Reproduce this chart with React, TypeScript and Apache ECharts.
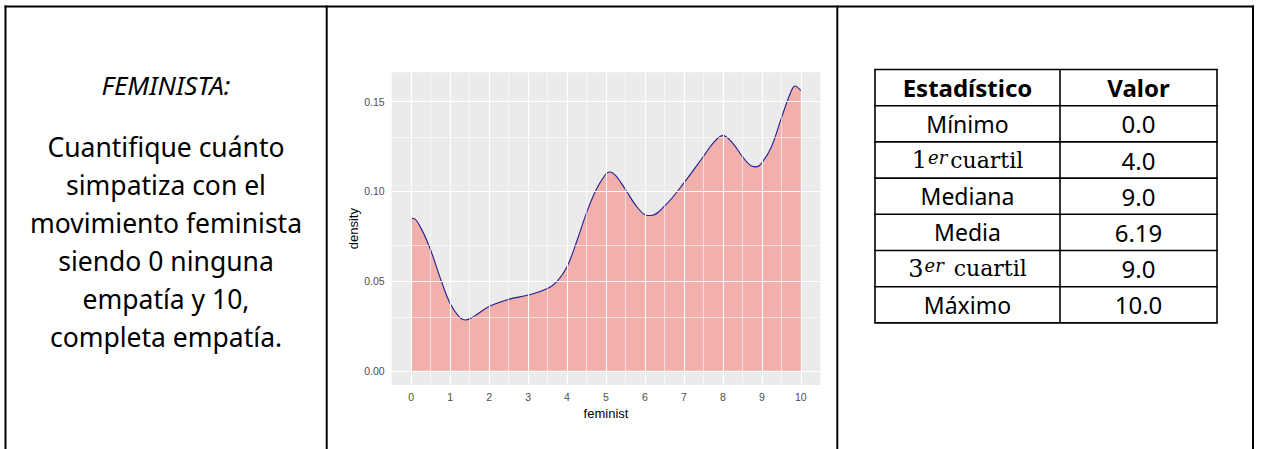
import React, { useEffect, useRef } from "react";
import * as echarts from "echarts";

// ---- data ----
const feministX = [0, 0.05, 0.25, 0.5, 0.75, 1.0, 1.25, 1.4, 1.6, 2.0, 2.5, 3.0, 3.5, 3.75, 4.0, 4.25, 4.5, 4.75, 5.0, 5.1, 5.25, 5.5, 5.75, 6.0, 6.15, 6.5, 7.0, 7.5, 7.75, 8.0, 8.25, 8.5, 8.75, 8.85, 9.0, 9.25, 9.5, 9.75, 9.85, 10];
const densityY = [0.0843, 0.085, 0.0795, 0.0672, 0.0515, 0.0375, 0.0297, 0.0283, 0.0302, 0.0358, 0.0398, 0.0422, 0.0458, 0.05, 0.058, 0.0722, 0.088, 0.101, 0.1098, 0.1108, 0.1087, 0.101, 0.0926, 0.087, 0.0865, 0.0917, 0.1047, 0.1194, 0.1269, 0.131, 0.1269, 0.1194, 0.1139, 0.1136, 0.1158, 0.125, 0.1408, 0.1556, 0.1587, 0.1561];

const xTicks = [0, 1, 2, 3, 4, 5, 6, 7, 8, 9, 10];
const xMinorGrid = [0.5, 1.5, 2.5, 3.5, 4.5, 5.5, 6.5, 7.5, 8.5, 9.5];
const yTicks = [0, 0.05, 0.1, 0.15];
const yMinorGrid = [0.025, 0.075, 0.125];

const titleText = "FEMINISTA:";
const bodyLines = [
  "Cuantifique cuánto",
  "simpatiza con el",
  "movimiento feminista",
  "siendo 0 ninguna",
  "empatía y 10,",
  "completa empatía.",
];

const tableHeader = ["Estadístico", "Valor"];
const statNames = ["Mínimo", "1^er^cuartil", "Mediana", "Media", "3^er^ cuartil", "Máximo"];
const statValues = ["0.0", "4.0", "9.0", "6.19", "9.0", "10.0"];

export default function App() {
  const ref = useRef<HTMLDivElement>(null);

  useEffect(() => {
    if (!ref.current) return;
    const chart = echarts.init(ref.current, null, { renderer: "svg" });

    const sans = '"Noto Sans"';
    const serif = '"DejaVu Serif"';
    const axisFont = '"Liberation Sans"';

    const graphics: any[] = [];
    // frame
    const frameStyle = { stroke: "#000", lineWidth: 2 };
    graphics.push({ type: "line", shape: { x1: 4.5, y1: 6.5, x2: 1254, y2: 6.5 }, style: frameStyle });
    [5.5, 326.7, 837.3, 1253].forEach((x) =>
      graphics.push({ type: "line", shape: { x1: x, y1: 5.5, x2: x, y2: 449 }, style: frameStyle })
    );

    // left text
    graphics.push({
      type: "text",
      x: 166,
      y: 85,
      style: {
        text: titleText,
        font: `italic 26px ${sans}`,
        fill: "#000",
        align: "center",
        verticalAlign: "middle",
      },
    });
    graphics.push({
      type: "text",
      x: 166,
      y: 242,
      style: {
        text: bodyLines.join("\n"),
        font: `26.5px ${sans}`,
        lineHeight: 38,
        fill: "#000",
        align: "center",
        verticalAlign: "middle",
      },
    });

    // table
    const tL = 875, tR = 1217, tC = 1060, tT = 69.5;
    const rowH = 36.2;
    const nRows = statNames.length + 1;
    const tB = tT + nRows * rowH;
    const tStyle = { stroke: "#000", lineWidth: 1.6 };
    for (let i = 0; i <= nRows; i++) {
      const y = tT + i * rowH;
      graphics.push({ type: "line", shape: { x1: tL - 0.8, y1: y, x2: tR + 0.8, y2: y }, style: tStyle });
    }
    [tL, tC, tR].forEach((x) =>
      graphics.push({ type: "line", shape: { x1: x, y1: tT, x2: x, y2: tB }, style: tStyle })
    );
    const c1 = (tL + tC) / 2, c2 = (tC + tR) / 2;
    tableHeader.forEach((h, j) =>
      graphics.push({
        type: "text",
        x: j === 0 ? c1 : c2,
        y: tT + rowH / 2,
        style: { text: h, font: `bold 24px ${sans}`, fill: "#000", align: "center", verticalAlign: "middle" },
      })
    );
    statNames.forEach((name, i) => {
      const cy = tT + (i + 1.5) * rowH;
      let style: any;
      if (name.includes("^")) {
        const [pre, sup, post] = name.split("^");
        style = {
          text: `{n|${pre}}{s|${sup}}{c|${post}}`,
          rich: {
            n: { font: `24px ${serif}`, fill: "#000" },
            s: { font: `italic 18px ${serif}`, fill: "#000", verticalAlign: "top", padding: [0, 3, 0, 1] },
            c: { font: `22px ${serif}`, fill: "#000" },
          },
          align: "center",
          verticalAlign: "middle",
        };
      } else {
        style = { text: name, font: `23px ${sans}`, fill: "#000", align: "center", verticalAlign: "middle" };
      }
      graphics.push({ type: "text", x: c1, y: cy, style });
      graphics.push({
        type: "text",
        x: c2,
        y: cy,
        style: { text: statValues[i], font: `24px ${sans}`, fill: "#000", align: "center", verticalAlign: "middle" },
      });
    });

    const points = feministX.map((x, i) => [x, densityY[i]]);

    const gridLines: any[] = [];
    xTicks.forEach((v) => gridLines.push({ xAxis: v, lineStyle: { color: "#ffffff", width: 1.1, type: "solid" } }));
    xMinorGrid.forEach((v) => gridLines.push({ xAxis: v, lineStyle: { color: "#ffffff", width: 0.6, type: "solid" } }));
    yTicks.forEach((v) => gridLines.push({ yAxis: v, lineStyle: { color: "#ffffff", width: 1.1, type: "solid" } }));
    yMinorGrid.forEach((v) => gridLines.push({ yAxis: v, lineStyle: { color: "#ffffff", width: 0.6, type: "solid" } }));

    chart.setOption({
      animation: false,
      backgroundColor: "#ffffff",
      grid: {
        show: true,
        left: 391.7,
        top: 72.3,
        right: 1261 - 820.3,
        bottom: 449 - 385,
        backgroundColor: "#EBEBEB",
        borderWidth: 0,
        containLabel: false,
      },
      xAxis: {
        type: "value",
        min: -0.5,
        max: 10.5,
        axisLine: { show: false },
        splitLine: { show: false },
        axisTick: { show: true, customValues: xTicks, length: 4, lineStyle: { color: "#333333", width: 1 } },
        axisLabel: {
          customValues: xTicks,
          color: "#4D4D4D",
          fontSize: 10.5,
          fontFamily: axisFont,
          margin: 6,
        },
        name: "feminist",
        nameLocation: "middle",
        nameGap: 21,
        nameTextStyle: { color: "#000", fontSize: 13, fontFamily: axisFont },
      },
      yAxis: {
        type: "value",
        min: -0.0079,
        max: 0.1663,
        axisLine: { show: false },
        splitLine: { show: false },
        axisTick: { show: true, customValues: yTicks, length: 4, lineStyle: { color: "#333333", width: 1 } },
        axisLabel: {
          customValues: yTicks,
          color: "#4D4D4D",
          fontSize: 10.5,
          fontFamily: axisFont,
          margin: 7,
          formatter: (v: number) => v.toFixed(2),
        },
        name: "density",
        nameLocation: "middle",
        nameRotate: 90,
        nameGap: 30,
        nameTextStyle: { color: "#000", fontSize: 13, fontFamily: axisFont },
      },
      series: [
        {
          type: "line",
          data: points,
          z: 1,
          showSymbol: false,
          silent: true,
          lineStyle: { width: 0, opacity: 0 },
          markLine: {
            silent: true,
            symbol: ["none", "none"],
            label: { show: false },
            data: gridLines,
          },
        },
        {
          type: "line",
          data: points,
          z: 3,
          smooth: 0.4,
          showSymbol: false,
          lineStyle: { color: "#1E1E96", width: 1.1 },
          areaStyle: { color: "#F8766D", opacity: 0.5 },
        },
      ],
      graphic: graphics,
    });

    return () => chart.dispose();
  }, []);

  return (
    <div
      ref={ref}
      style={{ position: "fixed", left: 0, top: 0, width: 1261, height: 449, background: "#fff" }}
    />
  );
}
